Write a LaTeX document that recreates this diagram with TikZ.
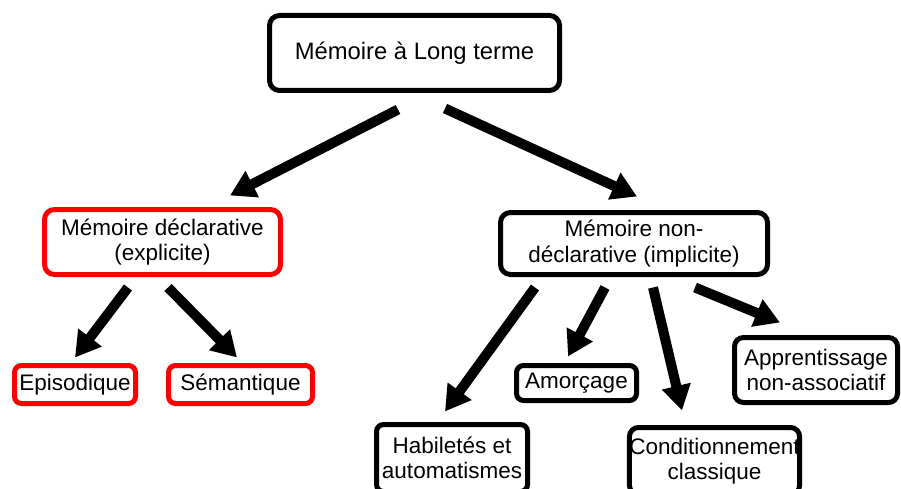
\documentclass[tikz,border=0pt]{standalone}
\usepackage{fontspec}
\setmainfont{Liberation Sans}
\usetikzlibrary{arrows.meta,calc}
\tikzset{
  box/.style={draw=black, line width=5pt, rounded corners=10pt, fill=white,
    align=center, inner sep=0pt, font=\fontsize{22.5}{25.5}\selectfont},
  redbox/.style={box, draw=red},
  conn/.style={line width=10pt, -{Triangle[length=25pt,width=28pt]}},
}
\begin{document}
\begin{tikzpicture}[x=1pt,y=-1pt]
\useasboundingbox[fill=white] (0,0) rectangle (901,489);
\node[box, font=\fontsize{23.8}{27}\selectfont, minimum width=290pt, minimum height=75pt] (top) at (414.5,53) {Mémoire à Long terme};
\node[redbox, minimum width=236pt, minimum height=65pt] (decl) at (162.5,242) {Mémoire déclarative\\(explicite)};
\node[box, minimum width=267pt, minimum height=62pt] (nd) at (634,243.5) {Mémoire non-\\déclarative (implicite)};
\node[redbox, rounded corners=7pt, minimum width=121pt, minimum height=38pt] (epi) at (75,384.5) {Episodique};
\node[redbox, rounded corners=7pt, minimum width=144pt, minimum height=38pt] (sem) at (240.5,384.5) {Sémantique};
\node[box, rounded corners=7pt, minimum width=151pt, minimum height=67pt] (hab) at (452,458) {Habiletés et\\automatismes};
\node[box, rounded corners=7pt, minimum width=120pt, minimum height=35pt] (amo) at (576.5,383) {Amorçage};
\node[box, rounded corners=9pt, minimum width=170pt, minimum height=67pt] (cond) at (714.5,461) {Conditionnement\\classique};
\node[box, rounded corners=9pt, minimum width=163pt, minimum height=65pt] (app) at (816,370) {Apprentissage\\non-associatif};

\draw[conn] ($(top.south)+(-16.5pt,-16.5pt)$) -- ($(decl.north)+(67.5pt,11.5pt)$);
\draw[conn] ($(top.south)+(30.5pt,-15.5pt)$) -- ($(nd.north)+(3pt,13.5pt)$);
\draw[conn] ($(decl.south)+(-34.5pt,-10.5pt)$) -- ($(epi.north)+(0pt,5.5pt)$);
\draw[conn] ($(decl.south)+(5.5pt,-10.5pt)$) -- ($(sem.north)+(-3.5pt,5.5pt)$);
\draw[conn] ($(nd.south)+(-99pt,-10.5pt)$) -- ($(hab.north)+(-7pt,10.5pt)$);
\draw[conn] ($(nd.south)+(-29pt,-10.5pt)$) -- ($(amo.north)+(-8.5pt,6.5pt)$);
\draw[conn] ($(nd.south)+(19pt,-10.5pt)$) -- ($(cond.north)+(-32.5pt,14.5pt)$);
\draw[conn] ($(nd.south)+(61pt,-10.5pt)$) -- ($(app.north)+(-36pt,12.5pt)$);
\end{tikzpicture}
\end{document}
